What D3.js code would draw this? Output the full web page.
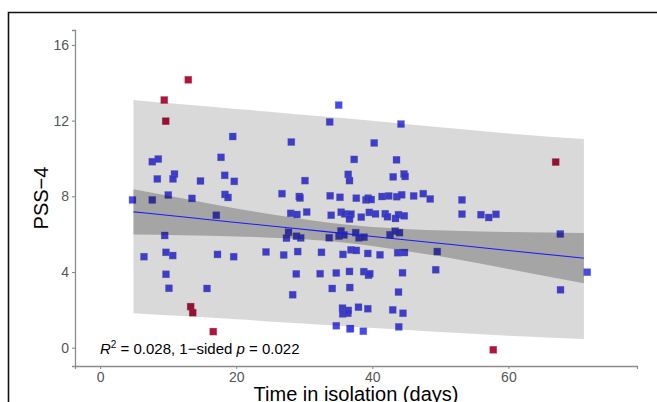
<!DOCTYPE html>
<html><head><meta charset="utf-8">
<script src="https://cdn.jsdelivr.net/npm/d3@7"></script>
<style>
html,body{margin:0;padding:0;background:#fff;}
svg{display:block;font-family:"Liberation Sans",Arial,Helvetica,sans-serif;}
</style></head>
<body><div id="chart"></div>
<script>
// ---- data ----
const blueX = [7.67,8.55,17.77,8.41,10.93,10.71,14.75,18.31,4.76,7.67,10.02,13.50,18.35,18.80,17.08,9.49,6.45,9.68,10.67,17.25,9.68,10.12,15.71,
  19.49,28.10,35.06,33.74,44.22,40.28,37.34,43.56,19.72,30.11,36.46,36.65,43.07,44.66,44.83,26.73,29.27,29.38,33.81,35.25,37.65,39.07,39.40,39.84,
  41.43,42.41,43.59,44.32,46.08,47.49,48.51,53.18,28.01,28.93,30.36,33.96,35.43,35.94,36.65,36.87,38.38,39.56,40.47,41.90,42.23,43.41,43.85,44.70,
  53.18,55.97,57.11,58.18,36.65,27.69,27.39,28.86,29.48,33.67,35.11,35.40,35.84,37.56,38.05,38.78,42.60,43.37,44.00,67.63,19.63,24.38,26.98,29.04,
  32.53,35.69,36.87,37.65,39.34,41.13,43.73,44.73,49.55,28.83,32.34,34.71,36.65,38.75,39.44,39.63,44.44,49.32,71.59,28.30,34.11,36.69,43.85,67.66,
  35.62,36.47,35.65,36.40,37.97,39.34,43.00,44.51,34.71,36.72,36.79,38.68,43.89];
const blueY = [9.83,9.97,10.06,8.92,9.18,8.92,8.81,9.11,7.81,7.81,8.07,7.89,8.10,7.94,7.00,5.93,4.81,5.04,4.87,4.93,3.88,3.14,3.13,
  11.16,10.87,12.82,11.93,11.82,10.82,9.95,9.93,8.79,8.83,9.16,8.83,9.03,9.18,9.05,8.14,7.99,7.91,8.03,7.95,7.90,7.81,7.90,7.83,
  7.99,8.02,7.98,8.08,8.02,8.14,7.86,7.81,7.10,7.04,7.17,7.00,7.16,7.07,6.99,7.06,6.90,7.15,7.07,7.08,6.92,6.83,7.03,6.97,
  7.06,7.03,6.88,7.05,6.80,6.10,5.79,5.89,5.80,5.81,5.90,6.17,5.96,6.08,5.81,5.84,5.97,6.16,6.08,6.01,4.81,5.06,4.90,5.08,
  5.04,4.93,5.17,5.14,4.98,4.91,5.02,5.03,5.08,3.90,3.91,3.95,4.03,4.02,3.83,3.91,3.96,4.12,3.99,2.80,3.13,3.18,2.94,3.06,
  2.09,1.97,1.79,1.82,2.14,2.06,2.00,1.82,1.16,1.00,1.01,0.87,1.10];
const redX = [12.96,9.43,9.64,13.31,13.61,16.63,57.78,66.95];
const redY = [14.16,13.09,11.97,2.17,1.85,0.85,-0.11,9.81];

const bandX  = [4.9, 12, 20, 28, 36, 44, 52, 60, 71.1];
const fitY   = [7.18, 6.92, 6.62, 6.33, 6.03, 5.73, 5.44, 5.14, 4.73];
const confLo = [5.98, 5.94, 5.88, 5.77, 5.55, 5.17, 4.70, 4.16, 3.40];
const confHi = [8.38, 7.90, 7.36, 6.89, 6.51, 6.29, 6.18, 6.12, 6.06];
const predLo = [1.82, 1.67, 1.50, 1.32, 1.14, 0.96, 0.79, 0.63, 0.46];
const predHi = [13.09, 12.86, 12.62, 12.37, 12.12, 11.85, 11.58, 11.32, 11.03];

const xTicks = [0, 20, 40, 60];
const yTicks = [0, 4, 8, 12, 16];
const xLabel = "Time in isolation (days)";
const yLabel = "PSS\u22124";
const r2Text = "0.028";
const pText = "0.022";

// ---- drawing ----
const W = 657, H = 402;
const svg = d3.select("#chart").append("svg").attr("width", W).attr("height", H);

// outer frame (top and left edges visible in the reference)
svg.append("path").attr("d", `M8.5,${H} L8.5,12.5 L${W},12.5`)
  .attr("fill", "none").attr("stroke", "#111").attr("stroke-width", 1.6);

const x = d3.scaleLinear().domain([-3.69, 78.9]).range([75, 637]);
const y = d3.scaleLinear().domain([-0.967, 16.79]).range([366, 30]);

const g = svg.append("g");

// points (drawn under the translucent bands)
const S = 7;
const blue = blueX.map((v, i) => ({x: v, y: blueY[i]}));
const red = redX.map((v, i) => ({x: v, y: redY[i]}));
g.selectAll("rect.b").data(blue).enter().append("rect").attr("class", "b")
  .attr("x", d => x(d.x) - S/2).attr("y", d => y(d.y) - S/2)
  .attr("width", S).attr("height", S)
  .attr("fill", "rgb(62,62,240)").attr("fill-opacity", 0.95)
  .attr("stroke", "rgba(120,120,150,0.5)").attr("stroke-width", 0.6);
g.selectAll("rect.r").data(red).enter().append("rect").attr("class", "r")
  .attr("x", d => x(d.x) - S/2).attr("y", d => y(d.y) - S/2)
  .attr("width", S).attr("height", S)
  .attr("fill", "rgb(180,18,62)")
  .attr("stroke", "rgba(140,90,100,0.5)").attr("stroke-width", 0.6);

const band = bandX.map((v, i) => ({x: v, f: fitY[i], cl: confLo[i], ch: confHi[i], pl: predLo[i], ph: predHi[i]}));

g.append("path").datum(band)
  .attr("d", d3.area().x(d => x(d.x)).y0(d => y(d.pl)).y1(d => y(d.ph)).curve(d3.curveMonotoneX))
  .attr("fill", "#000").attr("fill-opacity", 0.15);
g.append("path").datum(band)
  .attr("d", d3.area().x(d => x(d.x)).y0(d => y(d.cl)).y1(d => y(d.ch)).curve(d3.curveMonotoneX))
  .attr("fill", "#000").attr("fill-opacity", 0.24);
g.append("path").datum(band)
  .attr("d", d3.line().x(d => x(d.x)).y(d => y(d.f)).curve(d3.curveMonotoneX))
  .attr("fill", "none").attr("stroke", "#1a1aff").attr("stroke-width", 1.1);

// axes
const axisColor = "#8c8c8c";
const xAxis = svg.append("g").attr("transform", "translate(0,366)")
  .call(d3.axisBottom(x).tickValues(xTicks).tickSize(3).tickPadding(3));
const yAxis = svg.append("g").attr("transform", "translate(75,0)")
  .call(d3.axisLeft(y).tickValues(yTicks).tickSize(3).tickPadding(3));
[xAxis, yAxis].forEach(a => {
  a.select(".domain").attr("stroke", axisColor).attr("stroke-width", 1.3);
  a.selectAll(".tick line").attr("stroke", axisColor).attr("stroke-width", 1.1);
  a.selectAll(".tick text").attr("fill", "#555").attr("font-size", 14)
    .attr("font-family", "Liberation Sans, Arial, sans-serif");
});

// axis titles
svg.append("text").attr("x", 356).attr("y", 401).attr("text-anchor", "middle")
  .attr("font-size", 20).attr("fill", "#000").text(xLabel);
svg.append("text").attr("transform", "translate(48,198) rotate(-90)")
  .attr("text-anchor", "middle").attr("font-size", 20).attr("fill", "#000").text(yLabel);

// annotation
const ann = svg.append("text").attr("x", 100).attr("y", 354).attr("font-size", 15).attr("fill", "#000");
ann.append("tspan").attr("font-style", "italic").text("R");
ann.append("tspan").attr("font-size", 10).attr("dy", -6).text("2");
ann.append("tspan").attr("dy", 6).text(" = " + r2Text + ", 1\u2212sided  ");
ann.append("tspan").attr("font-style", "italic").text("p");
ann.append("tspan").text(" = " + pText);
</script></body></html>
